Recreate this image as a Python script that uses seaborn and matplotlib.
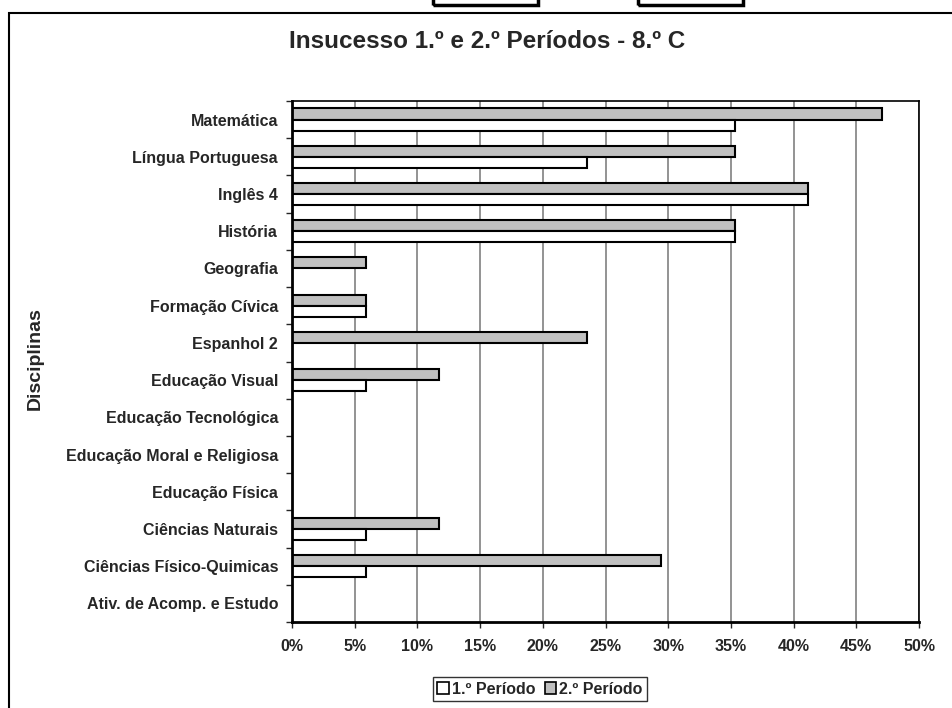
import pandas as pd
import matplotlib.pyplot as plt
import seaborn as sns
from matplotlib.patches import Patch, Rectangle
from matplotlib.ticker import PercentFormatter, FixedLocator

sns.set_style("white")
plt.rcParams["font.family"] = ["Liberation Sans", "DejaVu Sans"]
plt.rcParams["font.weight"] = "bold"

# dados (percentagem de alunos com negativa)
disciplinas = [
    "Matemática",
    "Língua Portuguesa",
    "Inglês 4",
    "História",
    "Geografia",
    "Formação Cívica",
    "Espanhol 2",
    "Educação Visual",
    "Educação Tecnológica",
    "Educação Moral e Religiosa",
    "Educação Física",
    "Ciências Naturais",
    "Ciências Físico-Quimicas",
    "Ativ. de Acomp. e Estudo",
]
periodo_1 = [35.29, 23.53, 41.18, 35.29, 0, 5.88, 0, 5.88, 0, 0, 0, 5.88, 5.88, 0]
periodo_2 = [47.06, 35.29, 41.18, 35.29, 5.88, 5.88, 23.53, 11.76, 0, 0, 0, 11.76, 29.41, 0]
periodos = ["1.º Período", "2.º Período"]
cores = {"1.º Período": "white", "2.º Período": "#c0c0c0"}

df = pd.DataFrame(
    {
        "Disciplina": disciplinas * 2,
        "Valor": periodo_1 + periodo_2,
        "Periodo": [periodos[0]] * len(disciplinas) + [periodos[1]] * len(disciplinas),
    }
)

fig = plt.figure(figsize=(9.52, 7.08), dpi=100)
ax = fig.add_axes([292 / 952, 1 - 622 / 708, (919 - 292) / 952, (622 - 101) / 708])

sns.barplot(
    df,
    x="Valor",
    y="Disciplina",
    hue="Periodo",
    hue_order=[periodos[1], periodos[0]],
    order=disciplinas,
    palette=cores,
    edgecolor="black",
    linewidth=1.5,
    width=0.6,
    orient="h",
    legend=False,
    ax=ax,
)

ax.set_xlim(0, 50)
ax.set_xticks(range(0, 55, 5))
ax.xaxis.set_major_formatter(PercentFormatter(100, decimals=0))
ax.xaxis.grid(True, color="#808080", lw=1.2)
ax.set_axisbelow(True)
ax.set_xlabel("")
ax.set_ylabel("")

ax.tick_params(axis="x", direction="out", length=4, width=1, pad=8, labelsize=11.5, bottom=True)
ax.tick_params(axis="y", which="major", length=0, pad=10, labelsize=11.5)
ax.yaxis.set_minor_locator(FixedLocator([i - 0.5 for i in range(len(disciplinas) + 1)]))
ax.tick_params(axis="y", which="minor", direction="out", length=4, width=1, left=True)
for lab in ax.get_xticklabels() + ax.get_yticklabels():
    lab.set_fontweight("bold")

for side in ["left", "bottom"]:
    ax.spines[side].set_linewidth(2)
    ax.spines[side].set_color("black")
for side in ["top", "right"]:
    ax.spines[side].set_linewidth(1.2)
    ax.spines[side].set_color("black")

fig.text(487 / 952, 1 - 42 / 708, "Insucesso 1.º e 2.º Períodos - 8.º C",
         ha="center", va="center", fontsize=17.5, fontweight="bold")
fig.text(35 / 952, 1 - 359 / 708, "Disciplinas", rotation=90,
         ha="center", va="center", fontsize=14, fontweight="bold")

handles = [Patch(facecolor=cores[p], edgecolor="black", lw=1.2) for p in periodos]
leg = fig.legend(
    handles, periodos, loc="center", bbox_to_anchor=(540 / 952, 1 - 689 / 708),
    ncol=2, frameon=True, fancybox=False, edgecolor="black",
    handlelength=0.7, handleheight=0.7, handletextpad=0.2, columnspacing=0.6,
    borderpad=0.3, borderaxespad=0, prop={"weight": "bold", "size": 11.5},
)
leg.get_frame().set_linewidth(1)

# moldura da área do gráfico e caixas cortadas no topo
fig.patches.append(Rectangle((9 / 952, -0.1), 1.0, (708 - 13) / 708 + 0.1,
                             transform=fig.transFigure, fill=False, lw=1.5,
                             edgecolor="black"))
for x0, x1 in [(433, 538), (638, 743)]:
    fig.patches.append(Rectangle((x0 / 952, 1 - 5 / 708), (x1 - x0) / 952, 0.05,
                                 transform=fig.transFigure, fill=False, lw=2.5,
                                 edgecolor="black"))

plt.savefig("out.png", dpi=100)
